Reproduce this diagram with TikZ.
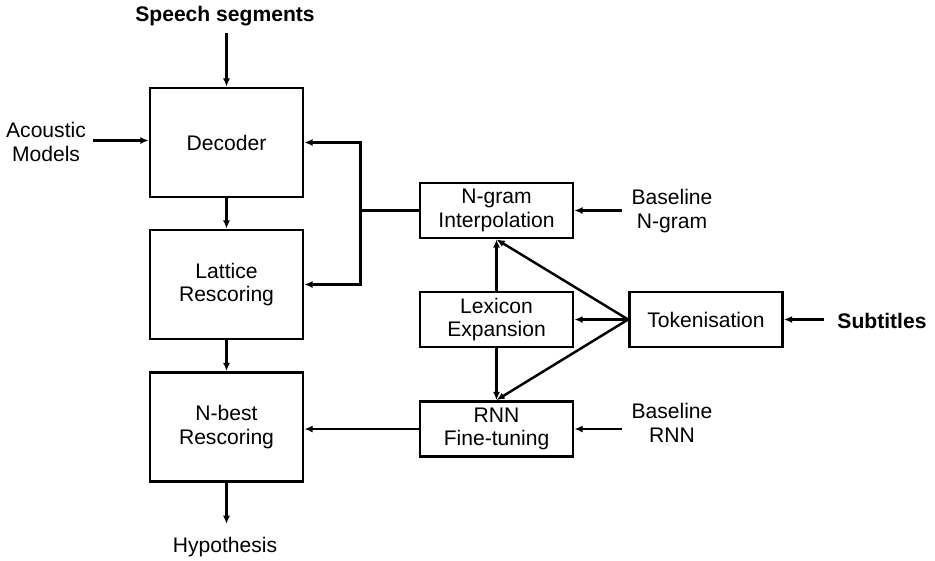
\documentclass[tikz,border=0pt]{standalone}
\usepackage{fontspec}
\setmainfont{Liberation Sans}
\usepackage{tikz}
\usetikzlibrary{arrows.meta}
\usetikzlibrary{calc}
\tikzset{>=latex}
\tikzstyle{myarr}=[-{Latex[length=7,width=6]}]
\tikzstyle{bigbox}=[draw,line width=2.4pt,minimum width=4.59cm,minimum height=3.27cm,align=center]
\tikzstyle{smallbox}=[draw,line width=2.4pt,minimum width=4.59cm,minimum height=1.65cm,align=center]
\tikzstyle{lbl}=[align=center,inner sep=2]

\begin{document}
\begin{tikzpicture}[x=0.03cm,y=-0.03cm,line width=2.1pt,font=\fontsize{18}{20}\selectfont]
			
			\useasboundingbox (0,0) rectangle (935,560);
			
			% BOXES
			\node[bigbox] (dec) at (226.5,142.5) {Decoder};
			\node[bigbox] (lat) at (226.5,284.5) {Lattice\\Rescoring};
			\node[bigbox] (nbe) at (226.5,427) {N-best\\Rescoring};
			\node[smallbox] (ngr) at (496.5,210.5) {N-gram\\Interpolation};
			\node[smallbox] (lex) at (496.5,319.5) {Lexicon\\Expansion};
			\node[smallbox] (rnn) at (496.5,429) {RNN\\Fine-tuning};
			\node[smallbox] (tok) at (706,319.5) {Tokenisation};
			
			% INPUTS AND OUTPUT
			\node[lbl,font=\fontsize{18}{20}\selectfont\bfseries] (spe) at (225,16) {Speech segments};
			\node[lbl] (aco) at (46,142) {Acoustic\\Models};
			\node[lbl] (bng) at (672,211) {Baseline\\N-gram};
			\node[lbl] (brn) at (672,423) {Baseline\\RNN};
			\node[lbl,font=\fontsize{18}{20}\selectfont\bfseries] (sub) at (882,321) {Subtitles};
			\node[lbl] (hyp) at (225,547) {Hypothesis};
			
			% MAIN CHAIN
			\draw[myarr] ($(dec.north |- spe.south)+(0,4)$) -- (dec.north);
			\draw[myarr] ($(aco.east |- dec.west)+(4,-2)$) -- ($(dec.west)+(0,-2)$);
			\draw[myarr] (dec) -- (lat);
			\draw[myarr] (lat) -- (nbe);
			\draw[myarr] (nbe.south) -- ++(0,41) coordinate (hypin);
			
			% LANGUAGE MODELS
			\draw (ngr.west) -- ++(-58,0) coordinate (bus);
			\draw[myarr] (bus) |- (dec.east);
			\draw[myarr] (bus) |- (lat.east);
			\draw[myarr] (rnn.west) -- (nbe.east |- rnn.west);
			\draw[myarr] ($(bng.west |- ngr.east)+(-6,0)$) -- (ngr.east);
			\draw[myarr] ($(brn.west |- rnn.east)+(-6,0)$) -- (rnn.east);
			
			% TEXT DATA
			\draw[myarr] ($(sub.west |- tok.east)+(-10,0)$) -- (tok.east);
			\draw[myarr] (tok.west) -- (ngr.south);
			\draw[myarr] (tok.west) -- (lex.east);
			\draw[myarr] (tok.west) -- (rnn.north);
			\draw[myarr] (lex.north) -- (ngr.south);
			\draw[myarr] (lex.south) -- (rnn.north);
			
\end{tikzpicture}
\end{document}
